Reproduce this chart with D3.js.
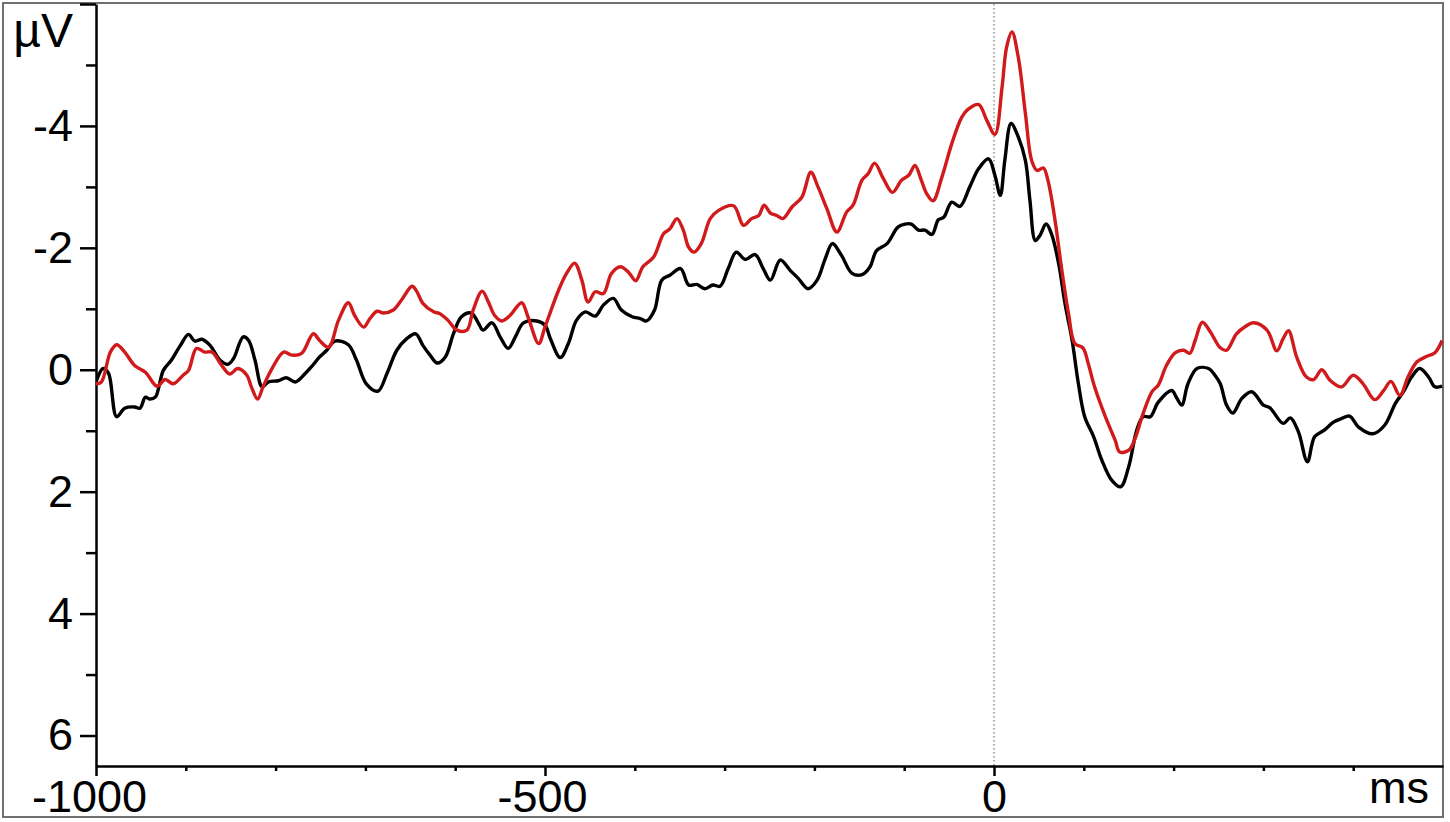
<!DOCTYPE html>
<html>
<head>
<meta charset="utf-8">
<script src="https://cdn.jsdelivr.net/npm/d3@7"></script>
<style>
  html, body { margin: 0; padding: 0; background: #fff; }
  svg { display: block; }
  text { font-family: "Liberation Sans", Arial, sans-serif; fill: #000; }
</style>
</head>
<body>
<svg id="chart" width="1450" height="822"></svg>
<script>
// ---- data (time in ms, amplitude in µV; negative plotted upward) ----
const blackSeries = [[-1000,0.20],[-992,-0.02],[-986,0.06],[-977,0.77],[-968,0.63],[-957,0.61],[-951,0.63],[-945,0.45],[-940,0.48],[-934,0.45],[-925,0.01],[-916,-0.16],[-906,-0.40],[-897,-0.58],[-890,-0.47],[-882,-0.50],[-873,-0.40],[-862,-0.16],[-853,-0.09],[-847,-0.18],[-836,-0.54],[-830,-0.48],[-823,-0.16],[-815,0.28],[-808,0.20],[-797,0.18],[-788,0.13],[-778,0.20],[-767,0.06],[-760,-0.05],[-751,-0.21],[-743,-0.32],[-734,-0.47],[-719,-0.41],[-710,-0.16],[-699,0.23],[-686,0.35],[-676,0.06],[-665,-0.32],[-654,-0.51],[-644,-0.59],[-636,-0.40],[-628,-0.24],[-620,-0.11],[-611,-0.21],[-602,-0.59],[-593,-0.87],[-582,-0.93],[-574,-0.76],[-569,-0.65],[-559,-0.77],[-550,-0.54],[-541,-0.35],[-532,-0.57],[-524,-0.77],[-509,-0.80],[-500,-0.73],[-494,-0.51],[-483,-0.20],[-474,-0.43],[-465,-0.81],[-455,-0.95],[-444,-0.88],[-435,-1.06],[-424,-1.17],[-415,-0.98],[-403,-0.87],[-394,-0.84],[-387,-0.80],[-378,-0.98],[-370,-1.47],[-361,-1.55],[-349,-1.66],[-340,-1.39],[-331,-1.40],[-322,-1.33],[-313,-1.39],[-305,-1.37],[-296,-1.66],[-287,-1.93],[-277,-1.81],[-266,-1.89],[-257,-1.66],[-249,-1.47],[-238,-1.80],[-227,-1.63],[-218,-1.50],[-207,-1.33],[-197,-1.47],[-188,-1.82],[-180,-2.07],[-170,-1.88],[-158,-1.58],[-147,-1.56],[-138,-1.69],[-131,-1.95],[-119,-2.07],[-107,-2.34],[-99,-2.39],[-92,-2.39],[-84,-2.29],[-77,-2.29],[-69,-2.22],[-62,-2.46],[-56,-2.50],[-47,-2.75],[-38,-2.68],[-27,-3.00],[-17,-3.30],[-6,-3.46],[1,-3.19],[7,-2.86],[12,-3.43],[19,-4.04],[27,-3.82],[35,-3.43],[40,-2.78],[46,-2.12],[51,-2.20],[58,-2.39],[64,-2.23],[72,-1.74],[79,-1.09],[87,-0.48],[94,0.23],[101,0.77],[111,1.10],[120,1.48],[131,1.81],[141,1.92],[150,1.59],[159,0.99],[166,0.77],[174,0.77],[183,0.53],[198,0.34],[203,0.45],[209,0.58],[216,0.23],[226,-0.02],[239,-0.02],[246,0.09],[252,0.23],[259,0.58],[266,0.71],[276,0.47],[287,0.36],[300,0.58],[307,0.62],[322,0.88],[330,0.79],[339,1.02],[349,1.51],[357,1.10],[367,1.00],[378,0.86],[387,0.80],[396,0.76],[406,0.94],[422,1.05],[435,0.91],[447,0.55],[456,0.36],[465,0.12],[474,-0.02],[484,0.12],[491,0.28],[499,0.27]];

const redSeries = [[-1000,0.23],[-994,0.20],[-984,-0.29],[-977,-0.41],[-968,-0.29],[-957,-0.07],[-945,0.04],[-932,0.27],[-923,0.16],[-914,0.23],[-903,0.09],[-897,0.01],[-888,-0.35],[-879,-0.29],[-871,-0.29],[-860,-0.07],[-851,0.07],[-842,-0.02],[-832,0.09],[-827,0.28],[-820,0.48],[-814,0.28],[-804,-0.02],[-791,-0.29],[-782,-0.24],[-771,-0.27],[-758,-0.59],[-751,-0.48],[-741,-0.37],[-730,-0.81],[-719,-1.10],[-712,-0.89],[-702,-0.70],[-695,-0.84],[-687,-0.96],[-680,-0.93],[-669,-0.98],[-660,-1.14],[-648,-1.37],[-643,-1.29],[-636,-1.09],[-624,-0.95],[-617,-0.92],[-608,-0.81],[-598,-0.65],[-587,-0.65],[-580,-0.98],[-570,-1.29],[-563,-1.11],[-556,-0.89],[-548,-0.80],[-539,-0.89],[-526,-1.10],[-519,-0.87],[-507,-0.43],[-500,-0.70],[-485,-1.30],[-476,-1.58],[-467,-1.75],[-459,-1.47],[-452,-1.11],[-444,-1.28],[-435,-1.25],[-426,-1.58],[-416,-1.69],[-407,-1.60],[-399,-1.46],[-391,-1.69],[-379,-1.85],[-368,-2.23],[-361,-2.31],[-353,-2.48],[-346,-2.29],[-340,-2.01],[-334,-1.93],[-326,-2.07],[-316,-2.48],[-307,-2.61],[-290,-2.69],[-279,-2.37],[-270,-2.48],[-262,-2.53],[-256,-2.70],[-249,-2.57],[-242,-2.53],[-235,-2.48],[-225,-2.67],[-214,-2.83],[-204,-3.24],[-196,-3.00],[-186,-2.64],[-175,-2.26],[-164,-2.59],[-157,-2.70],[-147,-3.11],[-140,-3.22],[-133,-3.39],[-123,-3.13],[-113,-2.91],[-103,-3.11],[-95,-3.19],[-88,-3.35],[-81,-3.11],[-75,-2.89],[-68,-2.77],[-58,-3.16],[-47,-3.71],[-36,-4.14],[-29,-4.27],[-17,-4.35],[-8,-4.09],[1,-3.86],[9,-4.64],[14,-5.29],[20,-5.54],[27,-5.13],[35,-4.20],[42,-3.43],[48,-3.27],[55,-3.31],[60,-3.11],[68,-2.45],[75,-1.69],[83,-0.92],[90,-0.43],[99,-0.36],[105,-0.10],[112,0.28],[124,0.77],[135,1.16],[140,1.35],[150,1.32],[157,1.13],[166,0.72],[176,0.36],[183,0.25],[192,-0.07],[202,-0.28],[211,-0.32],[218,-0.27],[224,-0.48],[232,-0.78],[241,-0.62],[252,-0.36],[259,-0.32],[270,-0.59],[280,-0.71],[289,-0.77],[304,-0.65],[315,-0.31],[322,-0.51],[328,-0.64],[337,-0.21],[348,0.12],[356,0.16],[365,0.00],[374,0.17],[387,0.28],[400,0.09],[411,0.23],[424,0.49],[434,0.34],[442,0.19],[452,0.42],[461,0.12],[471,-0.13],[482,-0.22],[491,-0.28],[499,-0.48]];

const xDomain = [-1000, 500];
const yDomain = [-6, 6.5];
const xMajorTicks = [-1000, -500, 0];
const xMinorTicks = [-900,-800,-700,-600,-400,-300,-200,-100,100,200,300,400];
const yMajorTicks = [-6, -4, -2, 0, 2, 4, 6];
const yLabelTicks = [-4, -2, 0, 2, 4, 6];
const yMinorTicks = [-5, -3, -1, 1, 3, 5];
const yUnit = "µV";
const xUnit = "ms";

// ---- drawing ----
const svg = d3.select("#chart");
const x = d3.scaleLinear().domain(xDomain).range([96, 1443]);
const y = d3.scaleLinear().domain(yDomain).range([4, 766]);

// outer frame
svg.append("rect").attr("x", 3).attr("y", 3).attr("width", 1440).attr("height", 814)
  .attr("fill", "none").attr("stroke", "#707070").attr("stroke-width", 2);

svg.append("clipPath").attr("id", "plotclip").append("rect")
  .attr("x", 96).attr("y", 0).attr("width", 1347).attr("height", 766);

// zero line (dotted)
svg.append("line")
  .attr("x1", x(0)).attr("x2", x(0)).attr("y1", y(-6)).attr("y2", y(6.5))
  .attr("stroke", "#777").attr("stroke-width", 1.2).attr("stroke-dasharray", "1.5,2.5");

// axes
function styleAxis(g) {
  g.selectAll("path, line").attr("stroke", "#000").attr("stroke-width", 2.5);
  g.selectAll("text").style("font-family", '"Liberation Sans", Arial, sans-serif')
    .style("font-size", "45px").attr("fill", "#000");
}

svg.append("g").attr("transform", "translate(96,0)")
  .call(d3.axisLeft(y).tickValues(yMinorTicks).tickSize(10).tickFormat(""))
  .call(g => g.select(".domain").remove())
  .call(styleAxis);
svg.append("g").attr("transform", "translate(96,0)")
  .call(d3.axisLeft(y).tickValues(yMajorTicks).tickSize(16).tickSizeOuter(0).tickPadding(7)
    .tickFormat(d => yLabelTicks.includes(d) ? String(d) : ""))
  .call(styleAxis);

svg.append("g").attr("transform", "translate(0,766)")
  .call(d3.axisBottom(x).tickValues(xMinorTicks).tickSize(5).tickFormat(""))
  .call(g => g.select(".domain").remove())
  .call(styleAxis);
const xAxisG = svg.append("g").attr("transform", "translate(0,766)")
  .call(d3.axisBottom(x).tickValues(xMajorTicks).tickSize(10).tickSizeOuter(0).tickPadding(4)
    .tickFormat(d => String(d)))
  .call(styleAxis);
xAxisG.selectAll(".tick text").attr("dx", d => d === -1000 ? -7 : (d === 0 ? 0 : -3));

// unit labels
svg.append("text").attr("x", 73).attr("y", 47).attr("text-anchor", "end")
  .style("font-size", "48px").text(yUnit);
svg.append("text").attr("x", 1429).attr("y", 803).attr("text-anchor", "end")
  .style("font-size", "45px").text(xUnit);

// lines
const line = d3.line().x(d => x(d[0])).y(d => y(d[1])).curve(d3.curveCatmullRom.alpha(0.5));
const plot = svg.append("g").attr("clip-path", "url(#plotclip)");
plot.append("path").datum(blackSeries).attr("d", line)
  .attr("fill", "none").attr("stroke", "#000").attr("stroke-width", 3.4).attr("stroke-linejoin", "round");
plot.append("path").datum(redSeries).attr("d", line)
  .attr("fill", "none").attr("stroke", "#d01a1c").attr("stroke-width", 3.4).attr("stroke-linejoin", "round");
</script>
</body>
</html>
